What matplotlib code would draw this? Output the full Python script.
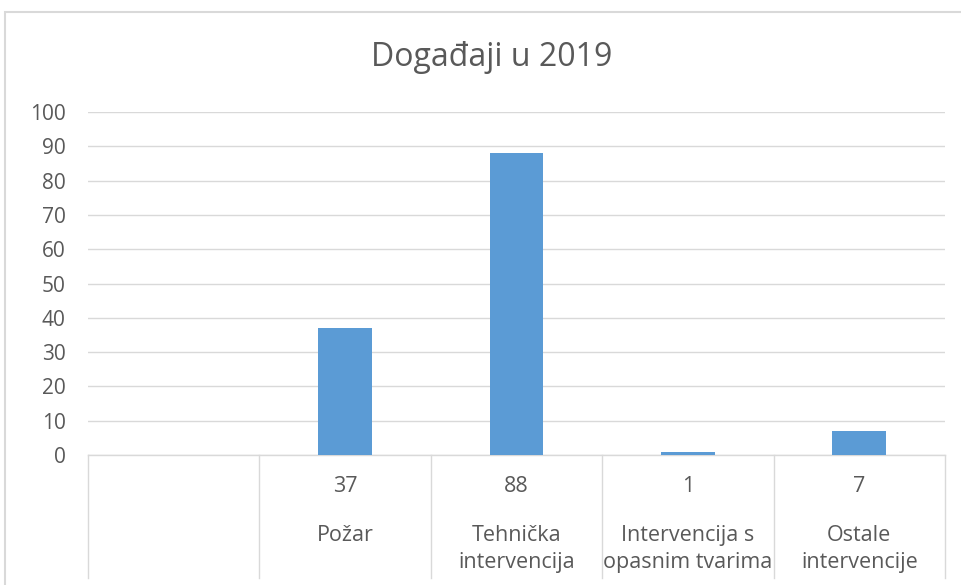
import matplotlib.pyplot as plt
import matplotlib.transforms as mtransforms
import matplotlib.patches as mpatches
import numpy as np

# data
categories = ["", "Požar", "Tehnička\nintervencija", "Intervencija s\nopasnim tvarima", "Ostale\nintervencije"]
values = [None, 37, 88, 1, 7]
yticks = [0, 10, 20, 30, 40, 50, 60, 70, 80, 90, 100]

plt.rcParams['font.family'] = ['Open Sans', 'DejaVu Sans']
txt = '#595959'
grid = '#D9D9D9'
bar_col = '#5B9BD5'

fig = plt.figure(figsize=(9.61, 5.85), dpi=100)
ax = fig.add_axes([88/961, 130/585, 857/961, 343/585])

# outer chart frame
fig.patches.append(mpatches.Rectangle((5/961, -0.05), 1.0, (585-12)/585 + 0.05,
                                      transform=fig.transFigure, fill=False,
                                      edgecolor=grid, lw=1.5))

x = np.arange(len(categories))
for xi, v in zip(x, values):
    if v is not None:
        ax.bar(xi, v, width=0.315, color=bar_col, zorder=3)

ax.set_xlim(-0.5, len(categories) - 0.5)
ax.set_ylim(0, 100)
ax.set_yticks(yticks)
ax.set_yticklabels([str(t) for t in yticks], color=txt, fontsize=15)
ax.tick_params(axis='y', length=0, pad=16)
ax.set_xticks([])
ax.grid(axis='y', color=grid, lw=1, zorder=0)
for s in ['top', 'right', 'left']:
    ax.spines[s].set_visible(False)
ax.spines['bottom'].set_color(grid)
ax.spines['bottom'].set_linewidth(1)

# data table under the axis
trans = mtransforms.blended_transform_factory(ax.transData, ax.transAxes)
bottom = -(578 - 455) / 343
for xb in np.arange(-0.5, len(categories), 1.0):
    ax.plot([xb, xb], [0, bottom], transform=trans, color=grid, lw=1, clip_on=False)
for xi, v, c in zip(x, values, categories):
    if v is not None:
        ax.text(xi, -32/343, str(v), transform=trans, ha='center', va='center',
                color=txt, fontsize=15.5)
    if c:
        ax.text(xi, -70/343, c, transform=trans, ha='center', va='top',
                color=txt, fontsize=15.5, linespacing=1.35)

fig.text(492 / 961, (585 - 57) / 585, "Događaji u 2019",
         ha='center', va='center', color=txt, fontsize=23)

fig.savefig('out.png', dpi=100)
